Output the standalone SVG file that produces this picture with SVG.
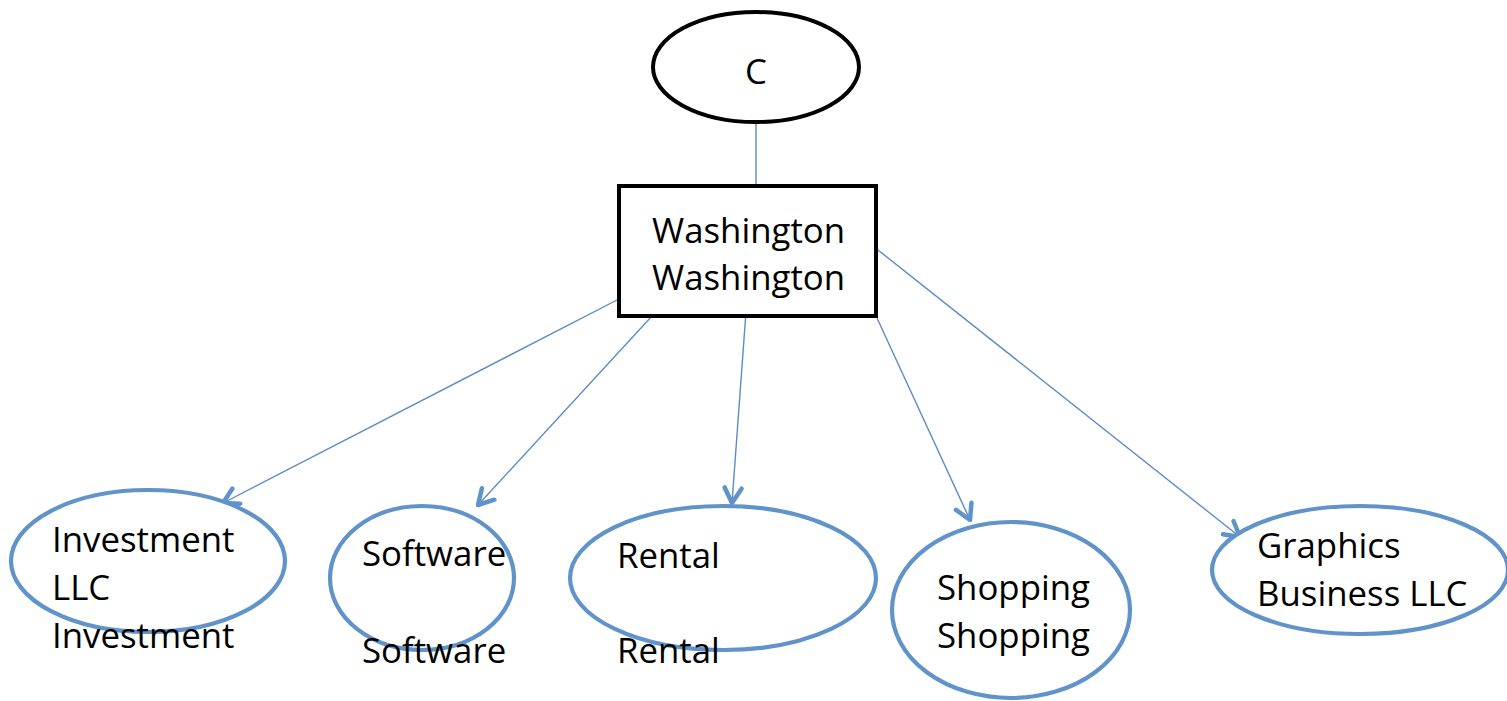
<svg xmlns="http://www.w3.org/2000/svg" width="1507" height="701" viewBox="0 0 1507 701">
<style>
.t{font-family:"Open Sans","Noto Sans",sans-serif;font-size:34.8px;fill:#000}
.blk{fill:#fff;stroke:#000;stroke-width:4}
.blu{fill:#fff;stroke:#6193CB;stroke-width:4.2}
.c{stroke:#5B8CC6;stroke-width:1.4;fill:none}
</style>
<defs>
<marker id="ah" markerUnits="userSpaceOnUse" markerWidth="30" markerHeight="30" viewBox="-20 -15 30 30" refX="0" refY="0" orient="auto" overflow="visible">
<path d="M-15,-8.5 L0,0 L-15,8.5" fill="none" stroke="#6193CB" stroke-width="4.5" stroke-linecap="round" stroke-linejoin="round"/>
</marker>
</defs>
<rect width="1507" height="701" fill="#fff"/>
<g id="connectors">
<line class="c" x1="756" y1="123" x2="756" y2="186"/>
<line class="c" x1="617" y1="300" x2="223" y2="503" marker-end="url(#ah)"/>
<line class="c" x1="652" y1="316" x2="478" y2="505" marker-end="url(#ah)"/>
<line class="c" x1="747" y1="298" x2="732" y2="503" marker-end="url(#ah)"/>
<line class="c" x1="877" y1="318" x2="970" y2="520" marker-end="url(#ah)"/>
<line class="c" x1="878" y1="250" x2="1240" y2="537" marker-end="url(#ah)"/>
</g>
<g id="node-c">
<ellipse class="blk" cx="756" cy="67" rx="103" ry="55"/>
<text class="t" x="756" y="84" text-anchor="middle">C</text>
</g>
<g id="node-washington">
<rect class="blk" x="619" y="186" width="257" height="130"/>
<text class="t" x="652" y="243">Washington</text>
<text class="t" x="652" y="290">Washington</text>
</g>
<g id="node-investment">
<ellipse class="blu" cx="148" cy="561" rx="137" ry="71"/>
<text class="t" x="52" y="552">Investment</text>
<text class="t" x="52" y="600">LLC</text>
<text class="t" x="52" y="648">Investment</text>
</g>
<g id="node-software">
<ellipse class="blu" cx="422" cy="578" rx="92" ry="72"/>
<text class="t" x="362" y="566">Software</text>
<text class="t" x="362" y="663">Software</text>
</g>
<g id="node-rental">
<ellipse class="blu" cx="723" cy="578" rx="153" ry="72"/>
<text class="t" x="617" y="568">Rental</text>
<text class="t" x="617" y="663">Rental</text>
</g>
<g id="node-shopping">
<ellipse class="blu" cx="1011" cy="610" rx="119" ry="88"/>
<text class="t" x="937" y="600">Shopping</text>
<text class="t" x="937" y="648">Shopping</text>
</g>
<g id="node-graphics">
<ellipse class="blu" cx="1360" cy="570" rx="148" ry="64"/>
<text class="t" x="1257" y="558">Graphics</text>
<text class="t" x="1257" y="606">Business LLC</text>
</g>
</svg>
